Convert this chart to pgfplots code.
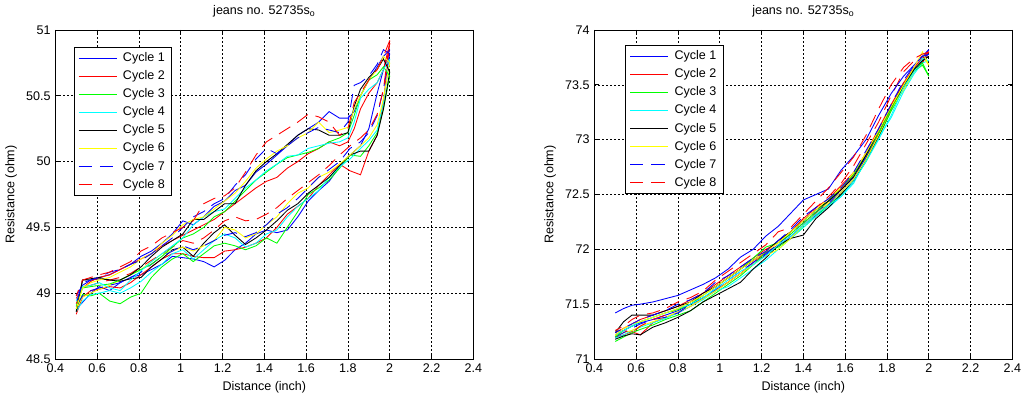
\documentclass[border=0pt]{standalone}
\usepackage{fontspec}
\setmainfont{Liberation Sans}
\usepackage{pgfplots}
\usepackage{pgfplotstable}
\pgfplotsset{compat=1.18}

\definecolor{mblue}{RGB}{0,0,255}
\definecolor{mred}{RGB}{255,0,0}
\definecolor{mgreen}{RGB}{0,255,0}
\definecolor{mcyan}{RGB}{0,255,255}
\definecolor{mblack}{RGB}{0,0,0}
\definecolor{myellow}{RGB}{255,255,0}

\pgfplotstableread{
x c1 c2 c3 c4 c5 c6 c7 c8
0.50 48.88 48.84 48.88 48.86 48.86 48.88 48.90 48.92
0.53 48.93 48.97 48.99 48.94 49.10 48.97 48.98 49.05
0.57 49.00 49.02 48.98 48.99 49.10 49.00 49.02 49.06
0.61 49.05 49.03 49.00 49.00 49.11 49.03 49.04 49.08
0.66 49.02 49.05 48.94 49.02 49.10 49.06 49.06 49.10
0.71 49.08 49.04 48.92 49.00 49.09 49.10 49.08 49.12
0.76 49.12 49.08 48.97 49.04 49.11 49.14 49.12 49.15
0.81 49.14 49.14 49.00 49.09 49.12 49.18 49.16 49.20
0.86 49.18 49.20 49.12 49.16 49.20 49.24 49.22 49.25
0.91 49.22 49.26 49.20 49.22 49.26 49.30 49.28 49.30
0.96 49.28 49.30 49.26 49.30 49.33 49.32 49.32 49.35
1.01 49.27 49.30 49.30 49.33 49.35 49.35 49.36 49.40
1.06 49.26 49.28 49.24 49.26 49.28 49.32 49.33 49.38
1.11 49.24 49.27 49.30 49.33 49.38 49.36 49.36 49.42
1.16 49.20 49.27 49.36 49.40 49.46 49.40 49.40 49.48
1.21 49.25 49.32 49.38 49.45 49.52 49.50 49.44 49.55
1.26 49.33 49.33 49.36 49.42 49.44 49.48 49.46 49.58
1.31 49.38 49.35 49.33 49.35 49.37 49.42 49.43 49.55
1.36 49.45 49.38 49.36 49.38 49.42 49.45 49.46 49.56
1.41 49.48 49.42 49.42 49.45 49.48 49.52 49.52 49.60
1.46 49.46 49.50 49.38 49.48 49.55 49.58 49.60 49.65
1.51 49.48 49.60 49.50 49.58 49.63 49.68 49.65 49.72
1.56 49.58 49.66 49.62 49.66 49.68 49.76 49.72 49.78
1.61 49.70 49.72 49.75 49.72 49.76 49.80 49.80 49.84
1.66 49.78 49.82 49.80 49.78 49.82 49.88 49.88 49.90
1.71 49.85 49.90 49.86 49.88 49.88 49.92 49.94 49.97
1.76 49.96 49.98 49.95 49.96 49.97 49.98 50.00 50.05
1.81 50.05 49.93 50.05 50.02 50.05 50.05 50.10 50.12
1.86 50.12 49.90 50.04 50.10 50.08 50.12 50.15 50.18
1.90 50.25 50.08 50.12 50.16 50.08 50.18 50.22 50.24
1.94 50.52 50.20 50.22 50.24 50.20 50.28 50.35 50.36
1.97 50.70 50.45 50.40 50.45 50.40 50.48 50.55 50.55
2.00 50.85 50.90 50.65 50.78 50.68 50.75 50.82 50.92
}\LF

\pgfplotstableread{
x c1 c2 c3 c4 c5 c6 c7 c8
2.00 50.85 50.90 50.65 50.78 50.68 50.75 50.82 50.92
1.97 50.80 50.70 50.72 50.70 50.78 50.80 50.85 50.80
1.94 50.72 50.60 50.66 50.60 50.70 50.70 50.74 50.70
1.90 50.62 50.52 50.62 50.55 50.64 50.62 50.65 50.62
1.86 50.50 50.40 50.50 50.48 50.55 50.50 50.60 50.52
1.83 50.38 50.25 50.35 50.30 50.42 50.40 50.58 50.45
1.80 50.33 50.15 50.22 50.18 50.22 50.26 50.30 50.25
1.76 50.33 50.12 50.18 50.15 50.20 50.24 50.22 50.20
1.71 50.38 50.15 50.15 50.14 50.20 50.22 50.24 50.30
1.66 50.30 50.10 50.10 50.12 50.24 50.30 50.26 50.34
1.61 50.25 50.06 50.07 50.10 50.25 50.22 50.22 50.36
1.56 50.20 50.00 50.05 50.05 50.20 50.18 50.18 50.30
1.51 50.12 49.95 50.03 50.04 50.13 50.12 50.12 50.25
1.46 50.05 49.88 49.98 49.98 50.06 50.08 50.06 50.20
1.41 49.98 49.85 49.92 49.93 50.00 50.02 50.10 50.15
1.36 49.92 49.80 49.86 49.86 49.93 49.95 50.02 50.05
1.31 49.82 49.74 49.78 49.80 49.82 49.85 49.90 49.92
1.26 49.78 49.68 49.70 49.72 49.68 49.76 49.82 49.80
1.21 49.70 49.62 49.62 49.64 49.68 49.70 49.72 49.74
1.16 49.66 49.56 49.58 49.62 49.62 49.64 49.68 49.72
1.11 49.58 49.52 49.50 49.58 49.56 49.58 49.62 49.68
1.06 49.52 49.48 49.45 49.52 49.56 49.56 49.58 49.55
1.01 49.55 49.44 49.42 49.42 49.45 49.52 49.50 49.50
0.96 49.45 49.40 49.35 49.36 49.40 49.44 49.42 49.46
0.91 49.38 49.36 49.28 49.30 49.35 49.38 49.36 49.42
0.86 49.32 49.30 49.22 49.24 49.28 49.30 49.30 49.36
0.81 49.28 49.26 49.18 49.17 49.20 49.26 49.25 49.32
0.76 49.22 49.22 49.14 49.10 49.14 49.20 49.22 49.24
0.71 49.18 49.18 49.10 49.02 49.10 49.16 49.18 49.20
0.66 49.14 49.14 49.07 49.04 49.10 49.12 49.16 49.16
0.61 49.12 49.12 49.06 49.08 49.12 49.10 49.12 49.14
0.57 49.10 49.09 49.05 49.06 49.11 49.08 49.10 49.12
0.53 49.06 49.04 49.04 49.05 49.10 49.04 49.08 49.10
0.50 48.98 48.96 48.90 48.94 48.86 48.88 48.92 48.98
}\LR

\pgfplotstableread{
x c1 c2 c3 c4 c5 c6 c7 c8
0.50 71.22 71.20 71.16 71.19 71.18 71.21 71.20 71.22
0.54 71.26 71.22 71.20 71.22 71.21 71.24 71.24 71.26
0.58 71.30 71.25 71.24 71.26 71.23 71.26 71.28 71.24
0.62 71.33 71.22 71.27 71.29 71.22 71.30 71.32 71.30
0.68 71.36 71.33 71.31 71.33 71.29 71.34 71.36 71.36
0.74 71.40 71.38 71.36 71.37 71.33 71.38 71.38 71.40
0.80 71.44 71.42 71.40 71.42 71.38 71.43 71.42 71.46
0.86 71.50 71.48 71.44 71.48 71.44 71.48 71.50 71.52
0.92 71.55 71.55 71.52 71.54 71.52 71.55 71.56 71.58
0.98 71.63 71.62 71.60 71.62 71.58 71.62 71.64 71.66
1.04 71.70 71.70 71.68 71.66 71.64 71.70 71.72 71.74
1.10 71.78 71.78 71.76 71.74 71.70 71.78 71.80 71.82
1.16 71.86 71.88 71.86 71.82 71.82 71.86 71.88 71.90
1.22 71.95 71.97 71.97 71.90 71.92 71.94 71.96 71.98
1.28 72.03 72.04 72.02 72.00 72.04 72.00 72.05 72.08
1.34 72.12 72.10 72.10 72.10 72.10 72.10 72.14 72.16
1.40 72.22 72.22 72.20 72.20 72.13 72.22 72.24 72.28
1.46 72.31 72.33 72.30 72.30 72.28 72.32 72.34 72.38
1.52 72.41 72.44 72.40 72.38 72.38 72.42 72.42 72.48
1.58 72.52 72.55 72.50 72.48 72.50 72.52 72.54 72.60
1.64 72.64 72.68 72.62 72.60 72.62 72.64 72.66 72.76
1.70 72.84 72.86 72.80 72.82 72.82 72.82 72.86 72.96
1.76 73.05 73.05 73.02 73.02 73.03 73.04 73.06 73.16
1.82 73.28 73.28 73.26 73.20 73.28 73.28 73.30 73.40
1.88 73.50 73.48 73.46 73.44 73.48 73.46 73.52 73.62
1.93 73.66 73.62 73.62 73.60 73.64 73.62 73.66 73.72
1.97 73.74 73.70 73.68 73.70 73.72 73.76 73.74 73.76
2.00 73.82 73.80 73.58 73.72 73.76 73.68 73.78 73.80
}\RF

\pgfplotstableread{
x c1 c2 c3 c4 c5 c6 c7 c8
2.00 73.82 73.80 73.58 73.72 73.76 73.68 73.78 73.80
1.97 73.76 73.74 73.70 73.74 73.72 73.80 73.76 73.78
1.93 73.68 73.66 73.64 73.62 73.64 73.66 73.68 73.74
1.88 73.58 73.52 73.50 73.48 73.50 73.50 73.54 73.66
1.82 73.42 73.32 73.28 73.22 73.30 73.30 73.32 73.50
1.76 73.22 73.10 73.06 73.00 73.08 73.08 73.10 73.28
1.70 73.00 72.88 72.86 72.80 72.86 72.88 72.90 73.04
1.64 72.85 72.70 72.68 72.62 72.66 72.70 72.70 72.84
1.58 72.72 72.58 72.56 72.48 72.54 72.56 72.56 72.70
1.52 72.55 72.46 72.44 72.40 72.44 72.46 72.46 72.56
1.46 72.50 72.38 72.34 72.32 72.36 72.36 72.38 72.44
1.40 72.45 72.28 72.24 72.22 72.26 72.26 72.30 72.32
1.34 72.33 72.16 72.14 72.12 72.16 72.16 72.18 72.20
1.28 72.21 72.06 72.06 72.04 72.08 72.06 72.08 72.16
1.22 72.12 72.00 72.02 71.94 71.98 71.98 71.98 72.04
1.16 72.00 71.92 71.92 71.86 71.90 71.90 71.92 71.96
1.10 71.93 71.84 71.82 71.80 71.82 71.82 71.84 71.88
1.04 71.82 71.76 71.74 71.72 71.74 71.74 71.76 71.80
0.98 71.74 71.68 71.66 71.64 71.66 71.66 71.70 71.72
0.92 71.68 71.60 71.58 71.56 71.60 71.58 71.60 71.62
0.86 71.63 71.54 71.50 71.50 71.52 71.52 71.54 71.56
0.80 71.58 71.48 71.45 71.46 71.48 71.46 71.50 71.52
0.74 71.55 71.44 71.42 71.42 71.44 71.42 71.44 71.46
0.68 71.52 71.40 71.38 71.38 71.40 71.38 71.40 71.42
0.62 71.50 71.36 71.34 71.34 71.40 71.34 71.36 71.40
0.58 71.49 71.32 71.30 71.30 71.40 71.32 71.32 71.36
0.54 71.46 71.28 71.26 71.26 71.34 71.28 71.28 71.30
0.50 71.42 71.24 71.20 71.22 71.24 71.22 71.24 71.26
}\RR

\newcommand{\fs}{\fontsize{9.4}{11}\selectfont}

\tikzset{
  cA/.style={draw=mblue},
  cB/.style={draw=mred},
  cC/.style={draw=mgreen},
  cD/.style={draw=mcyan},
  cE/.style={draw=mblack},
  cF/.style={draw=myellow},
  cG/.style={draw=mblue, dash pattern=on 10pt off 6pt},
  cH/.style={draw=mred, dash pattern=on 10pt off 6pt},
}

\pgfplotsset{
  mat/.style={
    scale only axis, width=313.5pt, height=246.75pt,
    xmin=0.4, xmax=2.4,
    xtick={0.4,0.6,0.8,1,1.2,1.4,1.6,1.8,2,2.2,2.4},
    grid=major,
    major grid style={black, line width=0.45pt, dash pattern=on 1.4pt off 1.6pt},
    axis line style={black, line width=0.6pt},
    tick align=inside, xtick pos=both, ytick pos=both,
    major tick length=3.5pt,
    tick style={black, line width=0.5pt},
    tick label style={font=\fs},
    /pgf/number format/assume math mode=true,
    label style={font=\fs},
    title style={font=\fs},
    title={jeans no. 52735s\textsubscript{o}},
    xlabel={Distance (inch)},
    ylabel={Resistance (ohm)},
    every axis plot/.append style={line width=0.65pt, sharp plot},
    legend cell align=left,
    legend style={anchor=north west, draw=black, line width=0.6pt, fill=white,
      font=\fs, inner xsep=3pt, inner ysep=2pt, row sep=1.2pt,
      /tikz/every odd column/.append style={column sep=2.5pt}},
    legend image code/.code={\draw[##1] (0pt,0pt) -- (28.5pt,0pt);},
  },
}

\newcommand{\cycles}[2]{%
  \addplot[cA] table[x=x,y=c1]{#1};
  \addplot[cB] table[x=x,y=c2]{#1};
  \addplot[cC] table[x=x,y=c3]{#1};
  \addplot[cD] table[x=x,y=c4]{#1};
  \addplot[cE] table[x=x,y=c5]{#1};
  \addplot[cF] table[x=x,y=c6]{#1};
  \addplot[cG] table[x=x,y=c7]{#1};
  \addplot[cH] table[x=x,y=c8]{#1};
  \addplot[cA,forget plot] table[x=x,y=c1]{#2};
  \addplot[cB,forget plot] table[x=x,y=c2]{#2};
  \addplot[cC,forget plot] table[x=x,y=c3]{#2};
  \addplot[cD,forget plot] table[x=x,y=c4]{#2};
  \addplot[cE,forget plot] table[x=x,y=c5]{#2};
  \addplot[cF,forget plot] table[x=x,y=c6]{#2};
  \addplot[cG,forget plot] table[x=x,y=c7]{#2};
  \addplot[cH,forget plot] table[x=x,y=c8]{#2};
  \legend{Cycle 1,Cycle 2,Cycle 3,Cycle 4,Cycle 5,Cycle 6,Cycle 7,Cycle 8}
}

\begin{document}
\begin{tikzpicture}
\begin{axis}[mat, ymin=48.5, ymax=51, ytick={48.5,49,49.5,50,50.5,51},
  legend style={at={(0.044,0.948)}}]
\cycles{\LF}{\LR}
\end{axis}
\begin{axis}[mat, xshift=404.25pt, ymin=71, ymax=74, ytick={71,71.5,72,72.5,73,73.5,74},
  legend style={at={(0.074,0.954)}}]
\cycles{\RF}{\RR}
\end{axis}
\pgfresetboundingbox
\path[use as bounding box] (-41.5pt,-30pt) rectangle (726.5pt,269.25pt);
\end{tikzpicture}
\end{document}
